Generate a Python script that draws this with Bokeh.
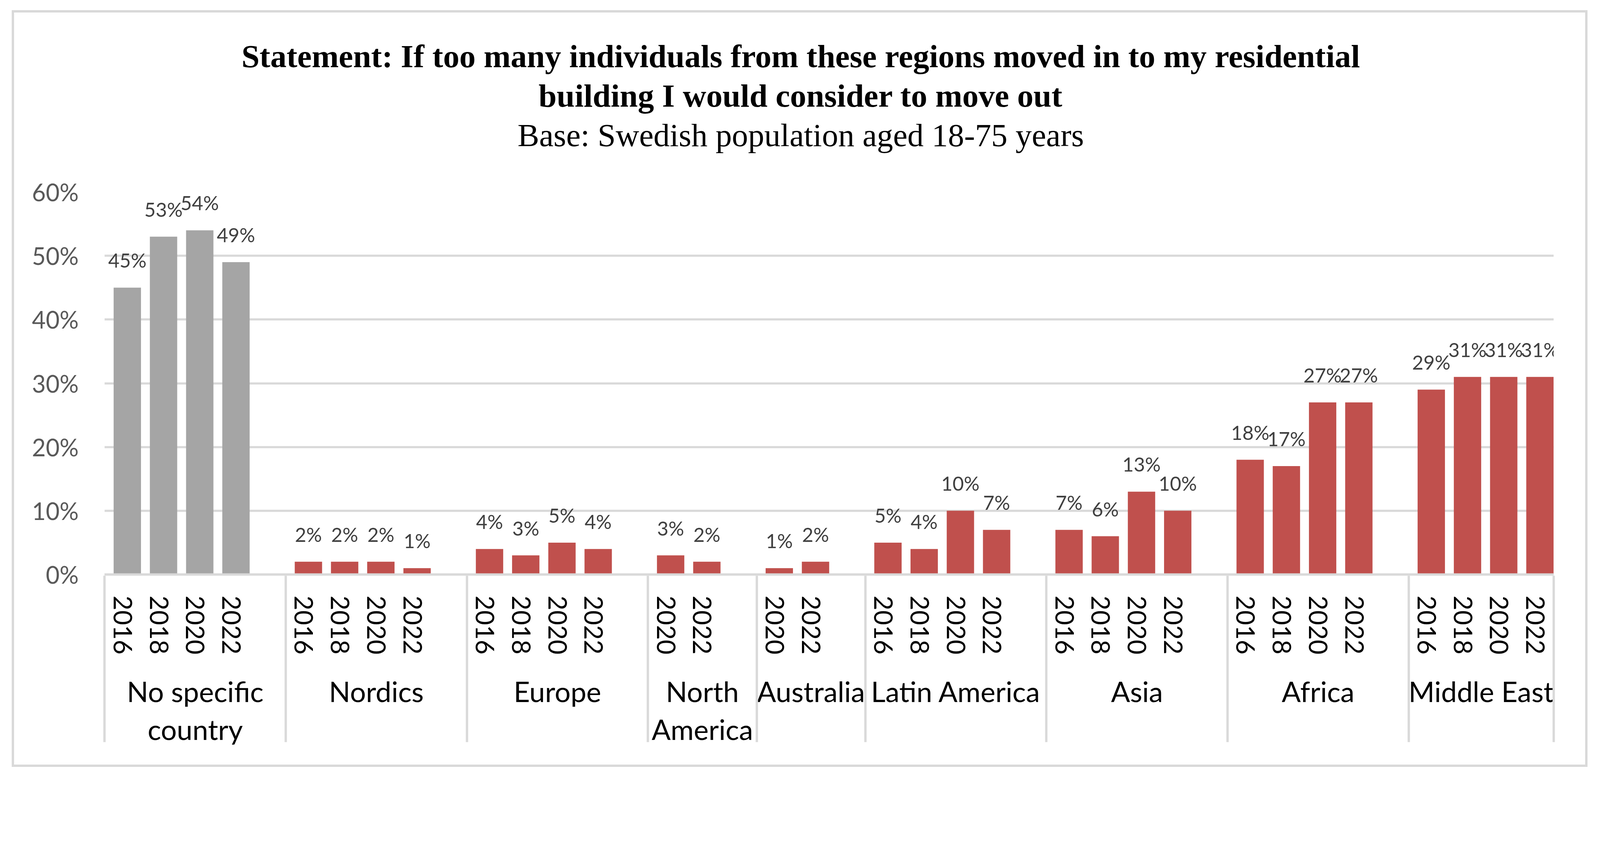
from bokeh.plotting import figure
from bokeh.models import (FactorRange, ColumnDataSource, FixedTicker, NumeralTickFormatter,
                          Title, Range1d)
from bokeh.transform import dodge
from bokeh.core.properties import value
from bokeh.embed import file_html
from bokeh.resources import INLINE

# ---------------- data ----------------
regions = ["No specific\ncountry", "Nordics", "Europe", "North\nAmerica", "Australia",
           "Latin America", "Asia", "Africa", "Middle East"]
years = [
    ["2016", "2018", "2020", "2022"],
    ["2016", "2018", "2020", "2022"],
    ["2016", "2018", "2020", "2022"],
    ["2020", "2022"],
    ["2020", "2022"],
    ["2016", "2018", "2020", "2022"],
    ["2016", "2018", "2020", "2022"],
    ["2016", "2018", "2020", "2022"],
    ["2016", "2018", "2020", "2022"],
]
values = [
    [45, 53, 54, 49],
    [2, 2, 2, 1],
    [4, 3, 5, 4],
    [3, 2],
    [1, 2],
    [5, 4, 10, 7],
    [7, 6, 13, 10],
    [18, 17, 27, 27],
    [29, 31, 31, 31],
]
y_ticks = [0, 10, 20, 30, 40, 50, 60]
title_line1 = "Statement: If too many individuals from these regions moved in to my residential"
title_line2 = "building I would consider to move out"
subtitle = "Base: Swedish population aged 18-75 years"

GRAY = "#A5A5A5"
RED = "#C0504D"
GRID = "#D9D9D9"

# blank edge groups (just outside the visible range) give the outer separators
EDGE_L, EDGE_R = " ", "  "
factors = [(EDGE_L, "")]
xs, tops, labels, colors = [], [], [], []
for i, (r, ys, vs) in enumerate(zip(regions, years, values)):
    for y, v in zip(ys, vs):
        factors.append((r, y))
        xs.append((r, y))
        tops.append(v / 100)
        labels.append(f"{v}%")
        colors.append(GRAY if i == 0 else RED)
    if i < len(regions) - 1:
        factors.append((r, ""))
factors.append((EDGE_R, ""))
n_slots = len(factors)
pad = -2 * 0.995 / n_slots  # hide the two blank edge slots

src = ColumnDataSource(dict(x=xs, top=tops, label=labels, color=colors))

# ---------------- layout (CSS px) ----------------
W, H = 4022, 1925
BL, BR, BT, BB = 231, 81, 459, 487
YMAX = 0.6

p = figure(width=W, height=H, output_backend="svg", toolbar_location=None,
           x_range=FactorRange(*factors, factor_padding=0, group_padding=0,
                               subgroup_padding=0, range_padding=pad,
                               range_padding_units="percent"),
           y_range=Range1d(0, YMAX),
           min_border_left=BL, min_border_right=BR, min_border_top=BT,
           min_border_bottom=BB)
p.margin = (32, 0, 0, 36)
p.styles = {"box-shadow": "0 0 0 6px #D9D9D9"}
p.background_fill_color = "white"
p.border_fill_color = "white"
p.outline_line_color = None

xd = dodge("x", 0.125, range=p.x_range)
p.vbar(x=xd, top="top", width=0.755, source=src, fill_color="color", line_color=None)
p.text(x=xd, y="top", text="label", source=src, text_align="center",
       text_baseline="middle", y_offset=-70, text_font=value("Lato"),
       text_font_size="50px", text_color="#404040")

# y axis
p.yaxis.ticker = FixedTicker(ticks=[t / 100 for t in y_ticks])
p.yaxis.formatter = NumeralTickFormatter(format="0%")
p.yaxis.axis_line_color = None
p.yaxis.major_tick_line_color = None
p.yaxis.minor_tick_line_color = None
p.yaxis.major_label_standoff = 60
p.yaxis.major_label_text_font = "Lato"
p.yaxis.major_label_text_font_size = "61px"
p.yaxis.major_label_text_color = "#595959"
p.ygrid.grid_line_color = GRID
p.ygrid.grid_line_width = 5.5
p.xgrid.grid_line_color = None

# x axis
xa = p.xaxis[0]
xa.axis_line_color = GRID
xa.axis_line_width = 6
xa.major_tick_line_color = None
xa.minor_tick_line_color = None
xa.major_label_orientation = "vertical"
xa.major_label_standoff = 48
xa.major_label_text_font = "Lato"
xa.major_label_text_font_size = "65px"
xa.major_label_text_color = "black"
xa.group_text_font = "Lato"
xa.group_text_font_size = "72px"
xa.group_text_font_style = "normal"
xa.group_text_color = "black"
xa.group_text_line_height = 1.12
xa.separator_line_color = GRID
xa.separator_line_width = 6

# titles (added nearest-first); trailing no-break spaces centre them on the chart
# rather than on the plot frame
shift = "\u00a0" * 7
p.add_layout(Title(text=" ", text_font_size="10px", standoff=83), "above")
p.add_layout(Title(text=subtitle + shift, text_font="Liberation Serif", text_font_size="83px",
                   text_font_style="normal", text_color="black", align="center",
                   standoff=7), "above")
p.add_layout(Title(text=title_line2 + shift, text_font="Liberation Serif", text_font_size="83px",
                   text_font_style="bold", text_color="black", align="center",
                   standoff=7), "above")
p.add_layout(Title(text=title_line1 + shift, text_font="Liberation Serif", text_font_size="83px",
                   text_font_style="bold", text_color="black", align="center",
                   standoff=7), "above")

open("out.html", "w").write(file_html(p, INLINE))
